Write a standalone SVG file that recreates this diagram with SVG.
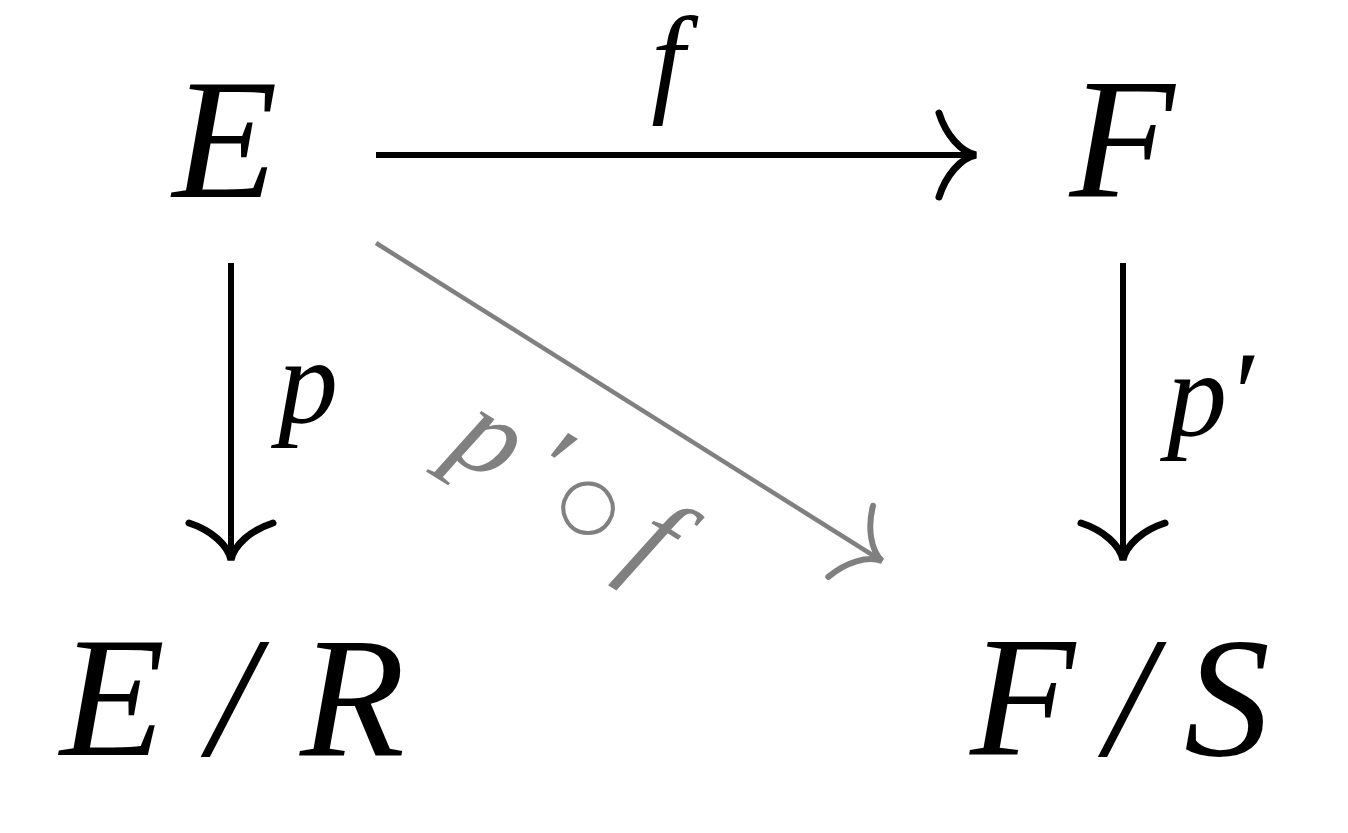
<svg xmlns="http://www.w3.org/2000/svg" width="1348" height="833" viewBox="0 0 1348 833">
<style>
.m{font-family:"Liberation Serif","DejaVu Serif",serif;font-style:italic;fill:#000}
.big{font-size:172px}
.lab{font-size:120px}
.g{fill:#808080}
.ring{font-family:"DejaVu Sans",sans-serif;font-style:normal;font-size:70px}
.ln{fill:none;stroke:#000;stroke-width:6}
.lg{fill:none;stroke:#808080;stroke-width:4.5}
</style>
<defs>
<marker id="ah" markerUnits="userSpaceOnUse" orient="auto" markerWidth="60" markerHeight="100" refX="50" refY="50" viewBox="0 0 60 100" overflow="visible">
<path d="M13,8 C20,30 35,47 50,50 C35,53 20,70 13,92" fill="none" stroke="#000" stroke-width="7" stroke-linecap="round"/>
</marker>
<marker id="ahg" markerUnits="userSpaceOnUse" orient="auto" markerWidth="60" markerHeight="100" refX="50" refY="50" viewBox="0 0 60 100" overflow="visible">
<path d="M13,8 C20,30 35,47 50,50 C35,53 20,70 13,92" fill="none" stroke="#808080" stroke-width="6" stroke-linecap="round"/>
</marker>
</defs>
<rect width="1348" height="833" fill="#fff"/>
<g id="nodeE"><text class="m big" x="225" y="197" text-anchor="middle">E</text></g>
<g id="nodeF"><text class="m big" x="1122" y="197" text-anchor="middle">F</text></g>
<g id="nodeER"><text class="m big" x="60" y="755" textLength="345" lengthAdjust="spacing">E/R</text></g>
<g id="nodeFS"><text class="m big" x="970" y="755" textLength="300" lengthAdjust="spacing">F/S</text></g>
<g id="connectors">
<line class="ln" x1="376" y1="155" x2="976" y2="155" marker-end="url(#ah)"/>
<line class="ln" x1="231" y1="263" x2="231" y2="560" marker-end="url(#ah)"/>
<line class="ln" x1="1123" y1="263" x2="1123" y2="560" marker-end="url(#ah)"/>
<line class="lg" x1="376" y1="243" x2="882" y2="561" marker-end="url(#ahg)"/>
<text class="m lab" x="668" y="100" text-anchor="middle" font-size="100">f</text>
<text class="m lab" x="308" y="422" text-anchor="middle">p</text>
<text class="m lab" x="1210" y="435" text-anchor="middle">p′</text>
<g transform="translate(571,532) rotate(32)">
<text class="m lab g" text-anchor="middle"><tspan x="-118" y="0">p</tspan><tspan x="-58" y="-4">′</tspan><tspan class="ring" x="2" y="-11">○</tspan><tspan x="75" y="0">f</tspan></text>
</g>
</g>
</svg>
